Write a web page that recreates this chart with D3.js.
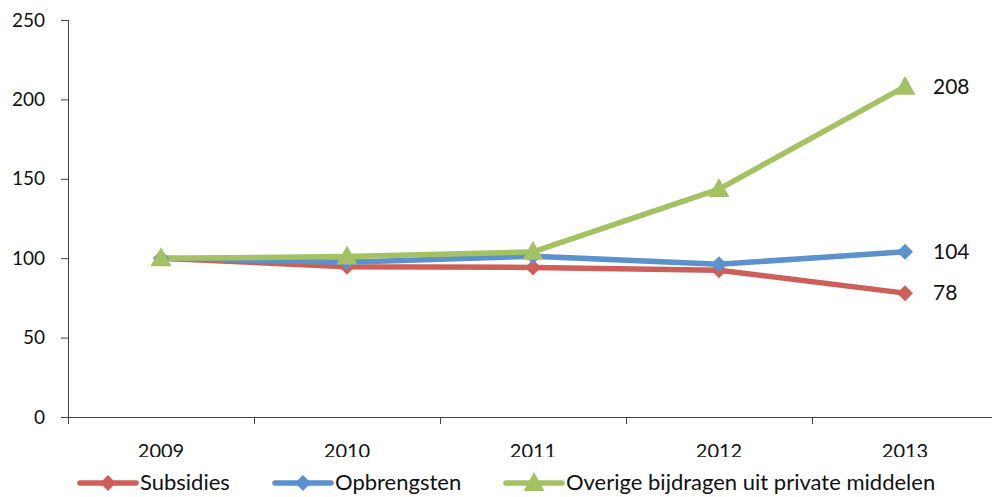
<!DOCTYPE html>
<html>
<head>
<meta charset="utf-8">
<script src="https://cdn.jsdelivr.net/npm/d3@7"></script>
<style>
  body { margin: 0; background: #fff; }
  svg { display: block; font-family: Lato, "Open Sans", sans-serif; }
</style>
</head>
<body>
<svg id="chart" width="992" height="497"></svg>
<script>
// data
var years = ["2009", "2010", "2011", "2012", "2013"];
var subsidies = [100, 94.6, 94.2, 92.4, 78];
var opbrengsten = [100, 97.5, 101.3, 96.2, 104];
var overige = [100, 101, 104, 143.5, 208];
var yTicks = [0, 50, 100, 150, 200, 250];

var series = [
  { name: "Subsidies", values: subsidies, color: "#CD5F5A", marker: "diamond", label: "78" },
  { name: "Opbrengsten", values: opbrengsten, color: "#5B92CB", marker: "diamond", label: "104" },
  { name: "Overige bijdragen uit private middelen", values: overige, color: "#A4C263", marker: "triangle", label: "208" }
];

var svg = d3.select("#chart");

var x = d3.scaleBand().domain(years).range([68, 998]);
var y = d3.scaleLinear().domain([0, 250]).range([417, 20]);

// y axis
var yAxis = svg.append("g")
    .attr("transform", "translate(68,0)")
    .call(d3.axisLeft(y).tickValues(yTicks).tickSize(7).tickPadding(16));
yAxis.select(".domain").attr("stroke", "#444").attr("d", "M0.5," + y(250) + "V" + y(0));
yAxis.selectAll(".tick line").attr("stroke", "#444");
yAxis.selectAll(".tick text").attr("font-size", 19).attr("fill", "#111")
    .attr("font-family", "Lato, sans-serif");

// x axis
var xAxis = svg.append("g")
    .attr("transform", "translate(0,417)")
    .call(d3.axisBottom(x).tickSize(0).tickFormat(""));
xAxis.select(".domain").attr("stroke", "#444").attr("d", "M68,0.5H998");
xAxis.selectAll(".tick").remove();
var bounds = years.map(function(d) { return x(d); });
xAxis.selectAll("line.bt")
    .data(bounds)
  .enter().append("line")
    .attr("class", "bt")
    .attr("x1", function(d) { return d + 0.5; })
    .attr("x2", function(d) { return d + 0.5; })
    .attr("y1", 0).attr("y2", 7)
    .attr("stroke", "#444");

// x labels, cut off at the bottom like the original
svg.append("clipPath").attr("id", "xclip")
  .append("rect").attr("x", 0).attr("y", 430).attr("width", 992).attr("height", 27);
svg.append("g").attr("clip-path", "url(#xclip)")
  .selectAll("text")
    .data(years)
  .enter().append("text")
    .attr("x", function(d) { return x(d) + x.bandwidth() / 2; })
    .attr("y", 458)
    .attr("text-anchor", "middle")
    .attr("font-size", 20)
    .attr("fill", "#111")
    .text(function(d) { return d; });

var line = d3.line()
    .x(function(d, i) { return x(years[i]) + x.bandwidth() / 2; })
    .y(function(d) { return y(d); });

function markerPath(type) {
  if (type === "diamond") return "M0,-8L8,0L0,8L-8,0Z";
  return "M0,-11L10.5,8L-10.5,8Z";
}

series.forEach(function(s) {
  svg.append("path")
      .attr("d", line(s.values))
      .attr("fill", "none")
      .attr("stroke", s.color)
      .attr("stroke-width", 5.5)
      .attr("stroke-linejoin", "round");
});

series.forEach(function(s) {
  svg.append("g").selectAll("path")
      .data(s.values)
    .enter().append("path")
      .attr("transform", function(d, i) {
        return "translate(" + (x(years[i]) + x.bandwidth() / 2) + "," + y(d) + ")";
      })
      .attr("d", markerPath(s.marker))
      .attr("fill", s.color);

  var last = s.values[s.values.length - 1];
  svg.append("text")
      .attr("x", x(years[years.length - 1]) + x.bandwidth() / 2 + 28)
      .attr("y", y(last) + 7)
      .attr("font-size", 21)
      .attr("fill", "#111")
      .text(s.label);
});

// legend
var legendX = [80, 275, 506];
var leg = svg.append("g").selectAll("g")
    .data(series)
  .enter().append("g")
    .attr("transform", function(d, i) { return "translate(" + legendX[i] + ",483)"; });
leg.append("line")
    .attr("x1", 0).attr("x2", 56)
    .attr("stroke", function(d) { return d.color; })
    .attr("stroke-width", 5.5)
    .attr("stroke-linecap", "round");
leg.append("path")
    .attr("transform", "translate(28,0)")
    .attr("d", function(d) { return markerPath(d.marker); })
    .attr("fill", function(d) { return d.color; });
leg.append("text")
    .attr("x", 60)
    .attr("y", 7)
    .attr("font-size", 22)
    .attr("fill", "#111")
    .text(function(d) { return d.name; });
</script>
</body>
</html>
